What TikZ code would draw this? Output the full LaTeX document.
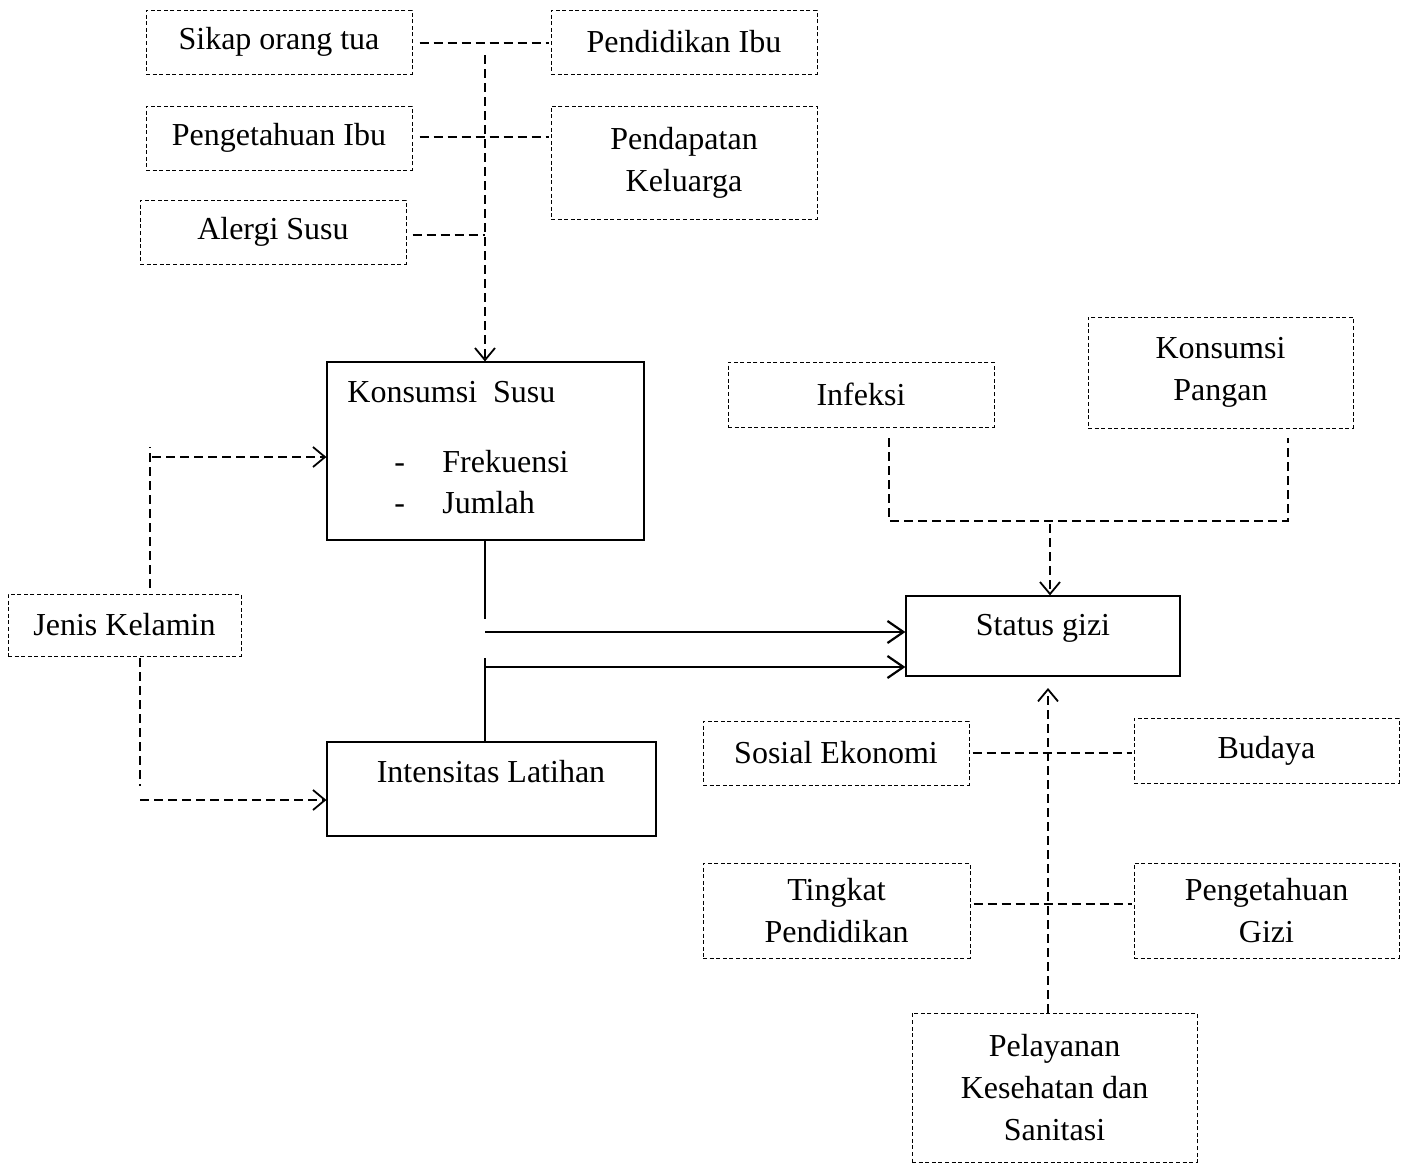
\documentclass[tikz,border=0pt]{standalone}
\usepackage{fontspec}
\setmainfont{Liberation Serif}
\usetikzlibrary{arrows.meta}
\begin{document}
\begin{tikzpicture}[x=0.5pt,y=-0.5pt,
  every node/.style={font=\fontsize{16pt}{21pt}\selectfont},
  sz/.style 2 args={minimum width=#1pt, minimum height=#2pt},
  dbox/.style={draw, line width=0.5pt, dash pattern=on 2pt off 1.3pt, inner sep=0pt, align=center},
  sbox/.style={draw, line width=0.6pt, inner sep=0pt},
  txt/.style={inner sep=0pt, anchor=base west},
  dline/.style={line width=0.9pt, dash pattern=on 4.5pt off 2.5pt},
  sline/.style={line width=0.6pt},
  tip/.style={-{Straight Barb[length=6pt,width=10pt,line width=0.9pt]}},
  arr/.style={line width=1.4pt, -{Straight Barb[length=8pt,width=11pt,line width=1.1pt]}}
]
\useasboundingbox (0,0) rectangle (1408,1163);

% left top cluster
\node[dbox, sz={133}{32}] (sikap) at (279,42) {Sikap orang tua};
\node[dbox, sz={133}{32}] (pendidikan) at (684,42) {Pendidikan Ibu};
\node[dbox, sz={133}{32}] (pengibu) at (279,138) {Pengetahuan Ibu};
\node[dbox, sz={133}{56.5}] (pendapatan) at (684,162.5) {Pendapatan\\Keluarga};
\node[dbox, sz={133}{32}] (alergi) at (273,232) {Alergi Susu};

% main solid boxes
\node[sbox, sz={158.5}{89}] (ksusu) at (485.5,451) {};
\node[txt] (ksusut) at (347,402) {Konsumsi\ \ Susu};
\node[txt] (dash1) at (394,472) {-};
\node[txt] (frek) at (442,472) {Frekuensi};
\node[txt] (dash2) at (394,513) {-};
\node[txt] (jumlah) at (442,513) {Jumlah};

\node[sbox, sz={164.5}{47}] (intens) at (491.5,789) {};
\node[inner sep=0pt, anchor=base] (intenst) at (491,782) {Intensitas Latihan};

\node[dbox, sz={116.5}{31}] (jenis) at (124.5,625) {Jenis Kelamin};

\node[sbox, sz={137}{40}] (sgizi) at (1043,636) {};
\node[inner sep=0pt, anchor=base] (sgizit) at (1043,635) {Status gizi};

% right boxes
\node[dbox, sz={133}{32.5}] (infeksi) at (861,394.5) {Infeksi};
\node[dbox, sz={132.5}{55.5}] (kpangan) at (1220.5,372.5) {Konsumsi\\Pangan};
\node[dbox, sz={133}{32}] (sosial) at (836,753) {Sosial Ekonomi};
\node[dbox, sz={132.5}{32.5}] (budaya) at (1266.5,750.5) {Budaya};
\node[dbox, sz={133.5}{47.5}] (tingkat) at (836.5,910.5) {Tingkat\\Pendidikan};
\node[dbox, sz={132.5}{47.5}] (pgizi) at (1266.5,910.5) {Pengetahuan\\Gizi};
\node[dbox, sz={142.5}{74.5}] (pelayanan) at (1054.5,1087.5) {Pelayanan\\Kesehatan dan\\Sanitasi};

% top-left connectors
\coordinate (vtop) at (485,55);
\draw[dline] ([xshift=3.5pt]sikap.east |- 0,43) -- ([xshift=-1pt]pendidikan.west |- 0,43);
\draw[dline] ([xshift=3.5pt]pengibu.east |- 0,137) -- ([xshift=-1pt]pendapatan.west |- 0,137);
\draw[dline] ([xshift=3pt]alergi.east |- 0,235) -- (vtop |- 0,235);
\draw[dline, tip] (vtop) -- (vtop |- ksusu.north);

% Jenis Kelamin connectors
\coordinate (j1) at (150,447);
\coordinate (j2) at (140,658);
\draw[dline] (j1 |- 0,588) -- (j1);
\draw[dline, tip] (152,457) -- (ksusu.west |- 0,457);
\draw[dline] (j2) -- (140,786);
\draw[dline, tip] (140,800) -- (intens.west |- 0,800);

% solid connectors
\coordinate (s1) at (485,619);
\coordinate (s2) at (485,658);
\draw[sline] (ksusu.south -| s1) -- (s1);
\draw[arr] (485,632) -- (sgizi.west |- 0,632);
\draw[sline] (intens.north -| s2) -- (s2);
\draw[arr] (485,667) -- (sgizi.west |- 0,667);

% right top connectors
\coordinate (r1) at (889,521);
\coordinate (r2) at (1288,521);
\draw[dline] (r1 |- 0,438) -- (r1) -- (r2) -- (r2 |- 0,438);
\draw[dline, tip] (1050,524) -- (sgizi.north -| 1050,0);

% right bottom connectors
\draw[dline] ([xshift=1.5pt]sosial.east |- 0,753) -- ([xshift=-1pt]budaya.west |- 0,753);
\draw[dline] ([xshift=1.5pt]tingkat.east |- 0,904) -- ([xshift=-1pt]pgizi.west |- 0,904);
\draw[dline, tip] (pelayanan.north -| 1048,0) -- (1048,688);
\end{tikzpicture}
\end{document}
